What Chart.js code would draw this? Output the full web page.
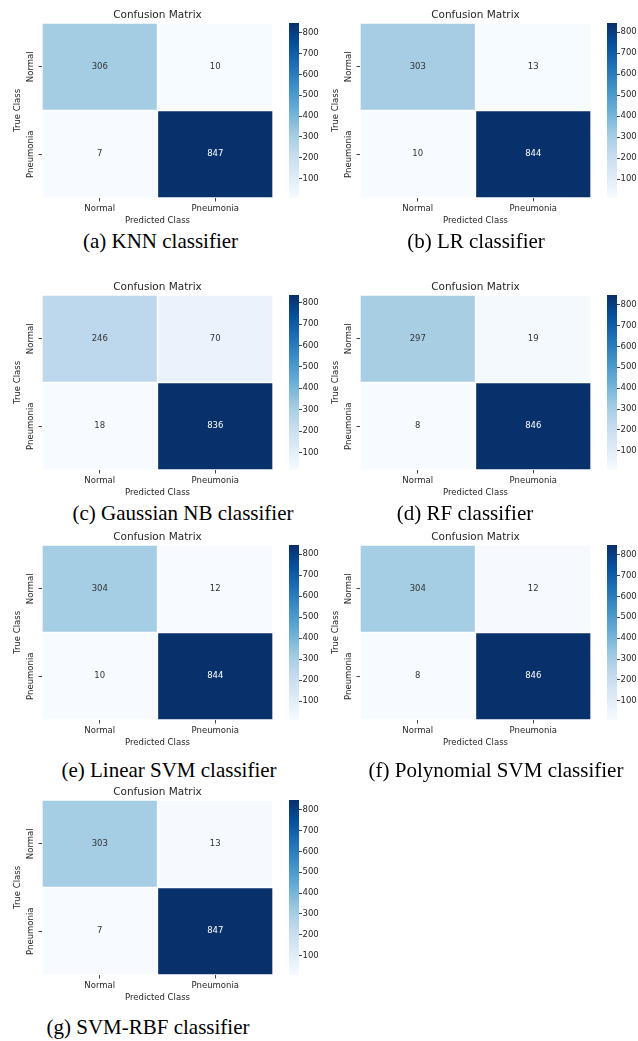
<!DOCTYPE html>
<html>
<head>
<meta charset="utf-8">
<script src="https://cdn.jsdelivr.net/npm/chart.js@4.4.1/dist/chart.umd.min.js"></script>
<style>
  body { margin: 0; background: #fff; }
  #page { position: relative; width: 638px; height: 1041px; overflow: hidden; background: #fff; }
  #page canvas { position: absolute; }
  .caption {
    position: absolute;
    font-family: "Liberation Serif", "Times New Roman", serif;
    font-size: 21px;
    line-height: 21px;
    color: #000;
    white-space: nowrap;
    transform: translateX(-50%);
  }
</style>
</head>
<body>
<div id="page"></div>
<script>
// class names (rows = true class, columns = predicted class)
const classLabels = ["Normal", "Pneumonia"];
const colorbarTicks = [100, 200, 300, 400, 500, 600, 700, 800];

// confusion matrices
const knnMatrix = [[306, 10], [7, 847]];
const lrMatrix = [[303, 13], [10, 844]];
const gnbMatrix = [[246, 70], [18, 836]];
const rfMatrix = [[297, 19], [8, 846]];
const linearSvmMatrix = [[304, 12], [10, 844]];
const polySvmMatrix = [[304, 12], [8, 846]];
const rbfSvmMatrix = [[303, 13], [7, 847]];

const captions = [
  "(a) KNN classifier",
  "(b) LR classifier",
  "(c) Gaussian NB classifier",
  "(d) RF classifier",
  "(e) Linear SVM classifier",
  "(f) Polynomial SVM classifier",
  "(g) SVM-RBF classifier"
];

// matplotlib "Blues" colormap stops
const BLUES = ["#f7fbff", "#deebf7", "#c6dbef", "#9ecae1", "#6baed6", "#4292c6", "#2171b5", "#08519c", "#08306b"];

Chart.defaults.font.family = "'DejaVu Sans', sans-serif";
Chart.defaults.color = "#262626";

const page = document.getElementById("page");
const FONT = 8.5;
const CELL_W = 231, CELL_H = 175;

function hexToRgb(h) {
  return [1, 3, 5].map(i => parseInt(h.substr(i, 2), 16));
}

function blues(t) {
  t = Math.max(0, Math.min(1, t));
  const pos = t * (BLUES.length - 1);
  const i = Math.min(Math.floor(pos), BLUES.length - 2);
  const f = pos - i;
  const a = hexToRgb(BLUES[i]), b = hexToRgb(BLUES[i + 1]);
  const c = a.map((v, k) => Math.round(v + (b[k] - v) * f));
  return "rgb(" + c.join(",") + ")";
}

// seaborn picks white text on dark cells
function textColorFor(rgb) {
  const c = rgb.match(/\d+/g).map(v => {
    v = v / 255;
    return v <= 0.03928 ? v / 12.92 : Math.pow((v + 0.055) / 1.055, 2.4);
  });
  const lum = 0.2126 * c[0] + 0.7152 * c[1] + 0.0722 * c[2];
  return lum < 0.408 ? "#ffffff" : "#333333";
}

function addCanvas(left, top, width, height) {
  const cv = document.createElement("canvas");
  cv.width = width;
  cv.height = height;
  cv.style.left = left + "px";
  cv.style.top = top + "px";
  cv.style.width = width + "px";
  cv.style.height = height + "px";
  page.appendChild(cv);
  return cv;
}

// width of the widest y label, used to center the rotated labels
const measure = document.createElement("canvas").getContext("2d");
measure.font = FONT + "px 'DejaVu Sans', sans-serif";
const widestLabel = Math.max(...classLabels.map(l => measure.measureText(l).width));
const yLabelPad = 11 - 3.5 - widestLabel / 2;

// writes the count in the middle of every cell
const cellText = {
  id: "cellText",
  afterDatasetsDraw(chart) {
    const ctx = chart.ctx;
    ctx.save();
    ctx.font = FONT + "px 'DejaVu Sans', sans-serif";
    ctx.textAlign = "center";
    ctx.textBaseline = "middle";
    chart.data.datasets.forEach((ds, r) => {
      chart.getDatasetMeta(r).data.forEach((bar, c) => {
        const p = bar.getCenterPoint();
        ctx.fillStyle = ds.textColors[c];
        ctx.fillText(String(ds.values[c]), p.x, p.y);
      });
    });
    ctx.restore();
  }
};

function drawHeatmap(matrix, px, py) {
  const flat = matrix.flat();
  const vmin = Math.min(...flat), vmax = Math.max(...flat);
  const n = matrix.length;

  const datasets = matrix.map((row, r) => {
    const colors = row.map(v => blues((v - vmin) / (vmax - vmin)));
    return {
      data: row.map(() => [n - 1 - r, n - r]),
      values: row,
      textColors: colors.map(textColorFor),
      backgroundColor: colors,
      borderColor: "#ffffff",
      borderWidth: 1,
      borderSkipped: false,
      barPercentage: 1,
      categoryPercentage: 1,
      grouped: false
    };
  });

  const cv = addCanvas(px - 42, py - 18, 42 + CELL_W, 18 + CELL_H + 30);
  new Chart(cv, {
    type: "bar",
    data: { labels: classLabels, datasets: datasets },
    options: {
      responsive: false,
      animation: false,
      events: [],
      layout: { padding: 0 },
      plugins: {
        legend: { display: false },
        tooltip: { enabled: false },
        title: {
          display: true,
          text: "Confusion Matrix",
          fullSize: false,
          color: "#262626",
          font: { size: 10.5, weight: "normal" },
          padding: { top: 4, bottom: 1.4 }
        }
      },
      scales: {
        x: {
          type: "category",
          afterFit: s => { s.height = 30; },
          grid: { offset: false, drawOnChartArea: false, tickLength: 3.5, color: "#444" },
          border: { display: false },
          ticks: { padding: 2.4, maxRotation: 0, autoSkip: false, font: { size: FONT } },
          title: { display: true, text: "Predicted Class", font: { size: FONT }, padding: { top: 0, bottom: 2.4 } }
        },
        y: {
          type: "linear",
          min: 0,
          max: n,
          afterBuildTicks: s => { s.ticks = classLabels.map((_, i) => ({ value: n - i - 0.5 })); },
          afterFit: s => { s.width = 42; },
          grid: { drawOnChartArea: false, tickLength: 3.5, color: "#444" },
          border: { display: false },
          ticks: {
            callback: (v, i) => classLabels[i],
            minRotation: 90,
            maxRotation: 90,
            crossAlign: "center",
            autoSkip: false,
            padding: yLabelPad,
            font: { size: FONT }
          },
          title: { display: true, text: "True Class", font: { size: FONT }, padding: { top: 12.4, bottom: 0 } }
        }
      }
    },
    plugins: [cellText]
  });

  drawColorbar(vmin, vmax, px + 247, py);
}

function drawColorbar(vmin, vmax, left, top) {
  const cv = addCanvas(left, top - 8, 40, CELL_H + 16);
  new Chart(cv, {
    type: "bar",
    data: {
      labels: [""],
      datasets: [{
        data: [[vmin, vmax]],
        backgroundColor: c => {
          const chart = c.chart;
          if (!chart.chartArea) return BLUES[4];
          const y = chart.scales.y;
          const g = chart.ctx.createLinearGradient(0, y.getPixelForValue(vmin), 0, y.getPixelForValue(vmax));
          BLUES.forEach((col, i) => g.addColorStop(i / (BLUES.length - 1), col));
          return g;
        },
        borderWidth: 0,
        barPercentage: 1,
        categoryPercentage: 1
      }]
    },
    options: {
      responsive: false,
      animation: false,
      events: [],
      layout: { padding: { top: 8, bottom: 8, left: 0, right: 0 } },
      plugins: { legend: { display: false }, tooltip: { enabled: false } },
      scales: {
        x: { display: false },
        y: {
          position: "right",
          min: vmin,
          max: vmax,
          afterBuildTicks: s => { s.ticks = colorbarTicks.map(v => ({ value: v })); },
          afterFit: s => { s.width = 30; },
          grid: { drawOnChartArea: false, tickLength: 3, color: "#444" },
          border: { display: false },
          ticks: { padding: 0.5, autoSkip: false, font: { size: FONT } }
        }
      }
    }
  });
}

function addCaption(text, cx, baseline) {
  const d = document.createElement("div");
  d.className = "caption";
  d.textContent = text;
  d.style.left = cx + "px";
  d.style.top = (baseline - 18) + "px";
  page.appendChild(d);
}

// panel placement: heatmap top-left corner, caption center and baseline
const panels = [
  { m: knnMatrix, x: 42, y: 23, cx: 160.5, cb: 249 },
  { m: lrMatrix, x: 360, y: 23, cx: 476, cb: 249 },
  { m: gnbMatrix, x: 42, y: 295, cx: 183, cb: 521 },
  { m: rfMatrix, x: 360, y: 295, cx: 465, cb: 521 },
  { m: linearSvmMatrix, x: 42, y: 545, cx: 169, cb: 778 },
  { m: polySvmMatrix, x: 360, y: 545, cx: 496, cb: 778 },
  { m: rbfSvmMatrix, x: 42, y: 800, cx: 148, cb: 1035 }
];

panels.forEach((p, i) => {
  drawHeatmap(p.m, p.x, p.y);
  addCaption(captions[i], p.cx, p.cb);
});
</script>
</body>
</html>
